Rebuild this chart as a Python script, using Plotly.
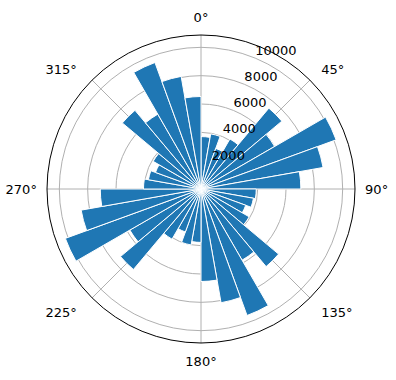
import plotly.graph_objects as go

theta_deg = [5, 15, 25, 35, 45, 55, 65, 75, 85,
             95, 105, 115, 125, 135, 145, 155, 165, 175,
             185, 195, 205, 215, 225, 235, 245, 255, 265,
             275, 285, 295, 305, 315, 325, 335, 345, 355]
values = [3700, 3950, 3050, 4080, 7450, 6000, 10150, 8750, 7050,
          3900, 3760, 3360, 3930, 7150, 5800, 9500, 8150, 6530,
          3770, 4010, 3230, 4090, 7420, 5800, 10190, 8590, 7110,
          4060, 3770, 3420, 3900, 7250, 6100, 9500, 8070, 6530]
angle_ticks = [0, 45, 90, 135, 180, 225, 270, 315]
angle_labels = ["0°", "\u00a045°", "90°", "\u00a0135°",
                "180°", "225°\u00a0\u00a0", "270°", "315°\u00a0\u00a0"]
r_ticks = [2000, 4000, 6000, 8000, 10000]
r_tick_labels = [str(v) for v in r_ticks]
r_label_theta = 22.5
r_max = 10870

fig = go.Figure()
fig.add_trace(go.Barpolar(
    r=values, theta=theta_deg, width=[10] * len(values),
    marker=dict(color="#1f77b4", line=dict(color="white", width=1)),
    opacity=1, hoverinfo="skip",
))
fig.add_trace(go.Scatterpolar(
    r=r_ticks, theta=[r_label_theta] * len(r_ticks),
    mode="text", text=r_tick_labels, textposition="top right",
    textfont=dict(family="DejaVu Sans", size=13, color="black"),
    hoverinfo="skip",
))

W, H = 396, 380
cx, cy, rad = 201, 189, 154
fig.update_layout(
    width=W, height=H,
    margin=dict(l=0, r=0, t=0, b=0),
    paper_bgcolor="white",
    showlegend=False,
    font=dict(family="DejaVu Sans", size=13, color="black"),
    polar=dict(
        domain=dict(x=[(cx - rad) / W, (cx + rad) / W],
                    y=[(H - cy - rad) / H, (H - cy + rad) / H]),
        bgcolor="white",
        bargap=0,
        angularaxis=dict(
            rotation=90, direction="clockwise",
            tickmode="array", tickvals=angle_ticks, ticktext=angle_labels,
            ticks="outside", ticklen=7, tickcolor="rgba(0,0,0,0)",
            showline=True, linecolor="black", linewidth=1,
            gridcolor="#b0b0b0", gridwidth=0.8, layer="above traces",
            tickfont=dict(size=13),
        ),
        radialaxis=dict(
            range=[0, r_max], angle=67.5,
            tickmode="array", tickvals=r_ticks,
            showticklabels=False,
            ticks="", showline=False,
            gridcolor="#b0b0b0", gridwidth=0.8, layer="above traces",
        ),
    ),
)
fig.write_html("out.html")
